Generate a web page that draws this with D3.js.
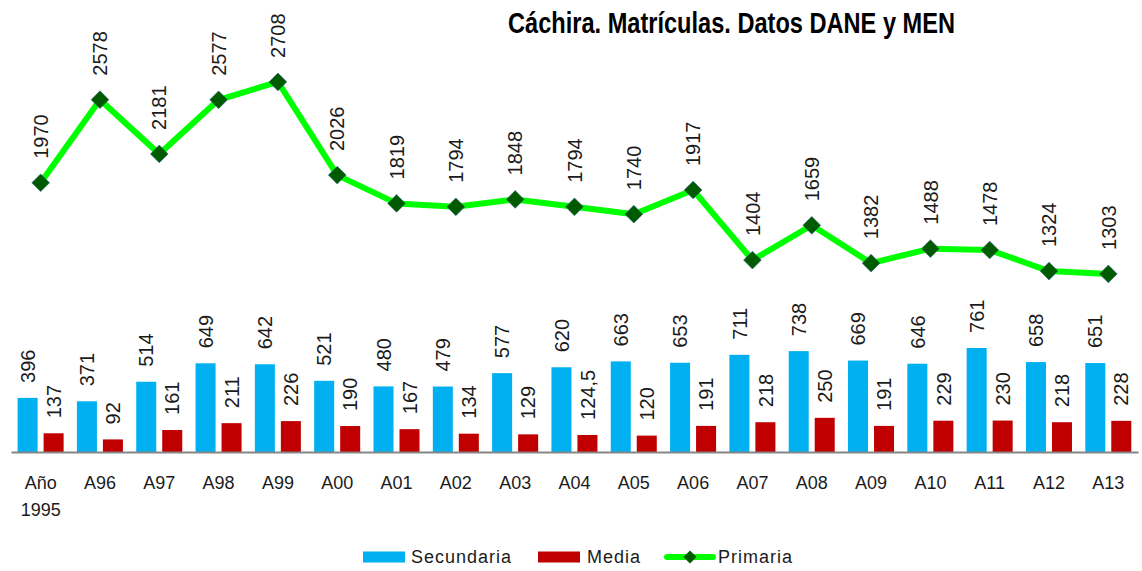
<!DOCTYPE html>
<html>
<head>
<meta charset="utf-8">
<script src="https://cdn.jsdelivr.net/npm/d3@7"></script>
<style>
  body { margin: 0; background: #fff; }
  svg { display: block; font-family: "Liberation Sans", Arial, sans-serif; }
</style>
</head>
<body>
<div id="chart"></div>
<script>
var categories = ["Año 1995", "A96", "A97", "A98", "A99", "A00", "A01", "A02", "A03", "A04",
    "A05", "A06", "A07", "A08", "A09", "A10", "A11", "A12", "A13"];
var secundaria = [396, 371, 514, 649, 642, 521, 480, 479, 577, 620, 663, 653, 711, 738, 669, 646, 761, 658, 651];
var media = [137, 92, 161, 211, 226, 190, 167, 134, 129, 124.5, 120, 191, 218, 250, 191, 229, 230, 218, 228];
var primaria = [1970, 2578, 2181, 2577, 2708, 2026, 1819, 1794, 1848, 1794, 1740, 1917, 1404, 1659, 1382, 1488, 1478, 1324, 1303];

var width = 1142, height = 571;
var baseY = 452;

var svg = d3.select("#chart").append("svg")
    .attr("width", width)
    .attr("height", height);

var x = d3.scaleBand().domain(categories).range([11, 1138]).padding(0);
var x1 = d3.scaleBand().domain(["sec", "med"])
    .range([6.6, x.bandwidth() - 6.7]).paddingInner(0.23);
var y = d3.scaleLinear().domain([0, 3000]).range([baseY, 42]);

function fmt(v) { return String(v).replace(".", ","); }

var labelColor = "#1b1b1b";

// bars
var groups = svg.selectAll("g.cat")
    .data(categories)
    .enter().append("g")
    .attr("class", "cat")
    .attr("transform", function(d) { return "translate(" + x(d) + ",0)"; });

groups.append("rect")
    .attr("x", x1("sec"))
    .attr("width", x1.bandwidth())
    .attr("y", function(d, i) { return y(secundaria[i]); })
    .attr("height", function(d, i) { return baseY - y(secundaria[i]); })
    .attr("fill", "#00B0F0");

groups.append("rect")
    .attr("x", x1("med"))
    .attr("width", x1.bandwidth())
    .attr("y", function(d, i) { return y(media[i]); })
    .attr("height", function(d, i) { return baseY - y(media[i]); })
    .attr("fill", "#C00000");

// bar labels
function barLabels(arr, key) {
    groups.append("text")
        .attr("transform", function(d, i) {
            return "translate(" + (x1(key) + x1.bandwidth() / 2) + "," + (y(arr[i]) - 15) + ") rotate(-90)";
        })
        .attr("dy", "0.36em")
        .attr("text-anchor", "start")
        .style("font-size", "20px")
        .attr("fill", labelColor)
        .text(function(d, i) { return fmt(arr[i]); });
}
barLabels(secundaria, "sec");
barLabels(media, "med");

// x axis
var xAxis = svg.append("g")
    .attr("transform", "translate(0," + baseY + ")")
    .call(d3.axisBottom(x).tickSize(0).tickPadding(0));
xAxis.select(".domain").attr("stroke", "#868686").attr("stroke-width", 2);
xAxis.selectAll(".tick text")
    .style("font-size", "18px")
    .style("font-family", "'Liberation Sans', Arial, sans-serif")
    .attr("fill", labelColor)
    .attr("dy", null)
    .attr("y", 37)
    .each(function(d) {
        var parts = d.split(" ");
        var t = d3.select(this).text(null);
        parts.forEach(function(p, i) {
            t.append("tspan").attr("x", 0).attr("dy", i === 0 ? 0 : 27).text(p);
        });
    });

// primaria line
var cx = function(i) { return x(categories[i]) + x.bandwidth() / 2; };
var line = d3.line()
    .x(function(d, i) { return cx(i); })
    .y(function(d) { return y(d); });

svg.append("path")
    .datum(primaria)
    .attr("fill", "none")
    .attr("stroke", "#00FF00")
    .attr("stroke-width", 6)
    .attr("stroke-linejoin", "round")
    .attr("d", line);

var diamond = d3.symbol().type(d3.symbolDiamond2).size(200);
svg.selectAll("path.mk")
    .data(primaria)
    .enter().append("path")
    .attr("class", "mk")
    .attr("d", diamond)
    .attr("transform", function(d, i) { return "translate(" + cx(i) + "," + y(d) + ")"; })
    .attr("fill", "#005A00")
    .attr("stroke", "#2f5f7f")
    .attr("stroke-width", 0.6);

svg.selectAll("text.pl")
    .data(primaria)
    .enter().append("text")
    .attr("class", "pl")
    .attr("transform", function(d, i) {
        return "translate(" + cx(i) + "," + (y(d) - 24) + ") rotate(-90)";
    })
    .attr("dy", "0.36em")
    .style("font-size", "20px")
    .attr("fill", labelColor)
    .text(function(d) { return fmt(d); });

// title
svg.append("text")
    .attr("x", 508)
    .attr("y", 33)
    .attr("textLength", 447)
    .attr("lengthAdjust", "spacingAndGlyphs")
    .style("font-size", "29px")
    .style("font-weight", "bold")
    .attr("fill", "#000")
    .text("Cáchira. Matrículas. Datos DANE y MEN");

// legend
var legend = svg.append("g").attr("transform", "translate(0,557)");
legend.append("rect").attr("x", 363).attr("y", -5.5).attr("width", 42).attr("height", 11).attr("fill", "#00B0F0");
legend.append("text").attr("x", 411).attr("dy", "0.36em").style("font-size", "18px")
    .style("letter-spacing", "1px").attr("fill", labelColor).text("Secundaria");
legend.append("rect").attr("x", 538).attr("y", -5.5).attr("width", 42).attr("height", 11).attr("fill", "#C00000");
legend.append("text").attr("x", 587).attr("dy", "0.36em").style("font-size", "18px")
    .style("letter-spacing", "1px").attr("fill", labelColor).text("Media");
legend.append("line").attr("x1", 667).attr("x2", 713).attr("stroke", "#00FF00").attr("stroke-width", 6)
    .attr("stroke-linecap", "round");
legend.append("path").attr("d", d3.symbol().type(d3.symbolDiamond2).size(110))
    .attr("transform", "translate(690,0)").attr("fill", "#005A00");
legend.append("text").attr("x", 718).attr("dy", "0.36em").style("font-size", "18px")
    .style("letter-spacing", "1px").attr("fill", labelColor).text("Primaria");
</script>
</body>
</html>
